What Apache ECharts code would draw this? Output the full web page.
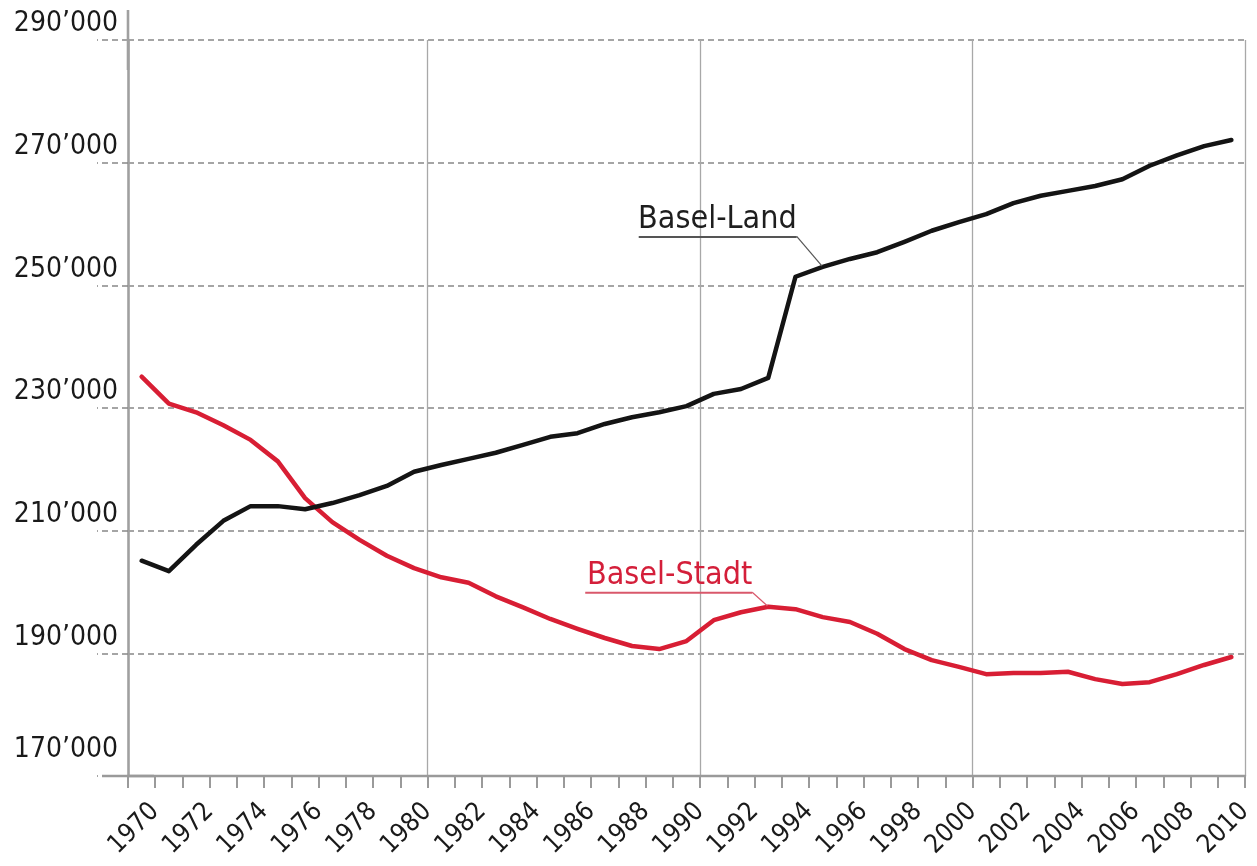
<!DOCTYPE html>
<html>
<head>
<meta charset="utf-8">
<title>Basel-Land / Basel-Stadt</title>
<script src="https://cdn.jsdelivr.net/npm/echarts@6/dist/echarts.min.js"></script>
<style>
  html, body { margin: 0; padding: 0; background: #fff; }
  #chart { width: 1257px; height: 866px; }
</style>
</head>
<body>
<div id="chart"></div>
<script>
// years on the x axis
const years = ['1970','1971','1972','1973','1974','1975','1976','1977','1978','1979',
  '1980','1981','1982','1983','1984','1985','1986','1987','1988','1989',
  '1990','1991','1992','1993','1994','1995','1996','1997','1998','1999',
  '2000','2001','2002','2003','2004','2005','2006','2007','2008','2009','2010'];

// population
const baselLand = [205100, 203400, 207700, 211600, 214000, 214000, 213500, 214500, 215800, 217300,
  219600, 220700, 221700, 222700, 224000, 225300, 225900, 227400, 228500, 229300,
  230300, 232300, 233100, 234900, 251400, 253000, 254300, 255400, 257100, 258900,
  260300, 261600, 263400, 264600, 265400, 266200, 267300, 269500, 271200, 272700, 273700];

const baselStadt = [235100, 230700, 229300, 227200, 224800, 221300, 215300, 211400, 208500, 205900,
  203900, 202400, 201500, 199300, 197500, 195600, 194000, 192500, 191200, 190700,
  192000, 195400, 196700, 197600, 197200, 195900, 195100, 193200, 190700, 188900,
  187800, 186600, 186800, 186800, 187000, 185800, 185000, 185300, 186600, 188100, 189400];

// y axis ticks
const yMin = 170000;
const yMax = 290000;
const yStep = 20000;

// where the name labels hang
const landLabelYear = '1995';
const stadtLabelYear = '1993';

const numFont = "'DejaVu Sans Condensed', 'DejaVu Sans', sans-serif";
const nameFont = "'DejaVu Sans Condensed', 'DejaVu Sans', sans-serif";
const black = '#141414';
const red = '#d81e34';

function fmt(v) {
  return String(v).replace(/\B(?=(\d{3})+(?!\d))/g, '\u2019');
}

// name + underline, the guide line leaves from the underline's right end
function nameLabel(text, color, lineColor, width, pos) {
  return {
    label: {
      show: true,
      position: pos,
      align: 'right',
      verticalAlign: 'middle',
      padding: [0, 0, 30, 0],
      backgroundColor: 'rgba(255,255,255,0)',
      formatter: '{t|' + text + '}\n{u| }',
      rich: {
        t: { fontFamily: nameFont, fontSize: 32, lineHeight: 30, color: color },
        u: { fontSize: 2, lineHeight: 4, height: 2, width: width, backgroundColor: lineColor }
      }
    },
    labelLine: {
      show: true,
      length2: 0,
      minTurnAngle: 0,
      lineStyle: { color: lineColor, width: 1.2 }
    }
  };
}

const landData = baselLand.map((v, i) => years[i] === landLabelYear
  ? Object.assign({ value: v }, nameLabel('Basel-Land', '#1e1e1e', '#555', 158, [-25, -29]))
  : v);

const stadtData = baselStadt.map((v, i) => years[i] === stadtLabelYear
  ? Object.assign({ value: v }, nameLabel('Basel-Stadt', '#d41f3a', '#d9586b', 167, [-15, -13]))
  : v);

const chart = echarts.init(document.getElementById('chart'));

const option = {
  animation: false,
  backgroundColor: '#fff',
  grid: {
    left: 128,
    right: 12,
    top: 40,
    bottom: 90,
    outerBoundsMode: 'none'
  },
  xAxis: {
    type: 'category',
    data: years,
    boundaryGap: true,
    axisLine: {
      lineStyle: { color: '#9a9a9a', width: 2.4 },
      symbol: ['rect', 'none'],
      symbolSize: [2.4, 52]
    },
    axisTick: {
      show: true,
      interval: 0,
      length: 12,
      lineStyle: { color: '#9a9a9a', width: 2 }
    },
    axisLabel: {
      interval: 1,
      rotate: 45,
      margin: 45,
      padding: [0, -19, 0, 0],
      fontFamily: numFont,
      fontSize: 26,
      color: '#1a1a1a'
    },
    splitLine: {
      show: true,
      interval: (idx) => idx > 1 && idx % 10 === 1,
      lineStyle: { color: '#a8a8a8', width: 1.3 }
    }
  },
  yAxis: {
    type: 'value',
    min: yMin,
    max: yMax,
    interval: yStep,
    axisLine: {
      show: true,
      lineStyle: { color: '#a0a0a0', width: 2.6 },
      symbol: ['none', 'rect'],
      symbolSize: [2.6, 60]
    },
    axisTick: {
      show: true,
      length: 31,
      lineStyle: { color: '#888', width: 1.5, type: [6, 4] }
    },
    axisLabel: {
      margin: 10,
      verticalAlign: 'bottom',
      formatter: (v) => (v === yMin ? '{b|' : '{a|') + fmt(v) + '}',
      rich: {
        a: { fontFamily: numFont, fontSize: 28, lineHeight: 32, color: '#1a1a1a' },
        b: { fontFamily: numFont, fontSize: 28, lineHeight: 52, color: '#1a1a1a' }
      }
    },
    splitLine: {
      show: true,
      lineStyle: { color: '#888', width: 1.5, type: [6, 4] }
    }
  },
  series: [
    {
      name: 'Basel-Land',
      type: 'line',
      data: landData,
      smooth: false,
      symbol: 'circle',
      symbolSize: 2,
      showSymbol: true,
      itemStyle: { color: black },
      lineStyle: { color: black, width: 4.5, join: 'round', cap: 'round' },
      z: 3
    },
    {
      name: 'Basel-Stadt',
      type: 'line',
      data: stadtData,
      smooth: false,
      symbol: 'circle',
      symbolSize: 2,
      showSymbol: true,
      itemStyle: { color: red },
      lineStyle: { color: red, width: 4.5, join: 'round', cap: 'round' },
      z: 2
    }
  ]
};

chart.setOption(option);
</script>
</body>
</html>
